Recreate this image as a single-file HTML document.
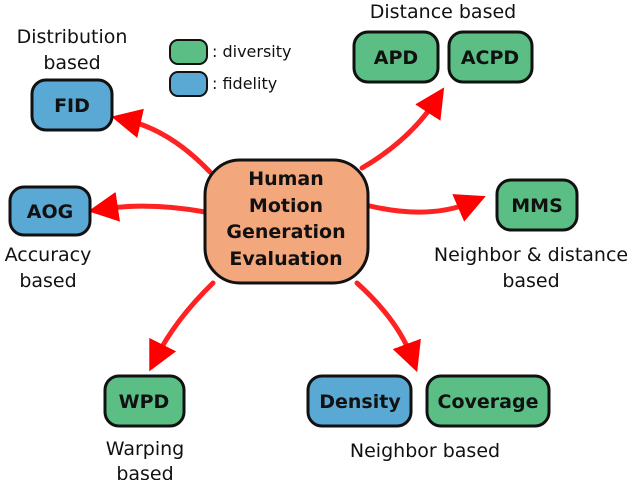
<!DOCTYPE html>
<html><head><meta charset="utf-8"><style>
html,body{margin:0;padding:0;background:#fff;width:640px;height:480px;overflow:hidden}
text{font-family:"DejaVu Sans","Liberation Sans",sans-serif}
.b{font-weight:bold;font-size:19px;fill:#111}
.l{font-size:19px;fill:#111}
.s{font-size:16px;fill:#111}
</style></head><body>
<svg width="640" height="480" viewBox="0 0 640 480" xmlns="http://www.w3.org/2000/svg">
<defs>
<marker id="a" markerWidth="6" markerHeight="6" refX="3" refY="3" orient="auto" markerUnits="strokeWidth">
<path d="M0,0 L6,3 L0,6 z" fill="#f00"/></marker>
</defs>
<g fill="none" stroke="#f22" stroke-width="5" stroke-linecap="round" marker-end="url(#a)">
<path d="M210,172 Q170,130 126,120"/>
<path d="M205,212 Q150,202 103,209"/>
<path d="M362,168 Q410,140 436,100"/>
<path d="M370,206 Q430,220 472,202"/>
<path d="M213,283 Q175,320 156,358"/>
<path d="M357,283 Q398,320 412,358"/>
</g>
<g stroke="#111" stroke-width="3">
<rect x="205" y="160" width="163" height="123" rx="35" fill="#f3a77c"/>
<rect x="32" y="80" width="80" height="50" rx="14" fill="#5aa8d4"/>
<rect x="10" y="187" width="80" height="48" rx="14" fill="#5aa8d4"/>
<rect x="354" y="32" width="84" height="50" rx="14" fill="#5bbf85"/>
<rect x="449" y="32" width="83" height="50" rx="14" fill="#5bbf85"/>
<rect x="497" y="180" width="80" height="50" rx="14" fill="#5bbf85"/>
<rect x="105" y="376" width="79" height="50" rx="14" fill="#5bbf85"/>
<rect x="308" y="376" width="103" height="50" rx="14" fill="#5aa8d4"/>
<rect x="427" y="376" width="122" height="50" rx="14" fill="#5bbf85"/>
<rect x="170" y="40" width="37" height="24" rx="8" fill="#5bbf85" stroke-width="2"/>
<rect x="170" y="72" width="37" height="24" rx="8" fill="#5aa8d4" stroke-width="2"/>
</g>
<g text-anchor="middle">
<text class="b" x="286" y="185">Human</text>
<text class="b" x="286" y="212">Motion</text>
<text class="b" x="286" y="238">Generation</text>
<text class="b" x="286" y="265">Evaluation</text>
<text class="b" x="72" y="112">FID</text>
<text class="b" x="50" y="218">AOG</text>
<text class="b" x="396" y="64">APD</text>
<text class="b" x="490" y="64">ACPD</text>
<text class="b" x="537" y="212">MMS</text>
<text class="b" x="144" y="408">WPD</text>
<text class="b" x="360" y="408">Density</text>
<text class="b" x="488" y="408">Coverage</text>
<text class="l" x="443" y="18">Distance based</text>
<text class="l" x="72" y="43">Distribution</text>
<text class="l" x="72" y="69">based</text>
<text class="l" x="48" y="261">Accuracy</text>
<text class="l" x="48" y="287">based</text>
<text class="l" x="531" y="261">Neighbor &amp; distance</text>
<text class="l" x="531" y="287">based</text>
<text class="l" x="145" y="455">Warping</text>
<text class="l" x="145" y="480">based</text>
<text class="l" x="425" y="457">Neighbor based</text>
</g>
<text class="s" x="212" y="57">: diversity</text>
<text class="s" x="212" y="89">: fidelity</text>
</svg>
</body></html>
